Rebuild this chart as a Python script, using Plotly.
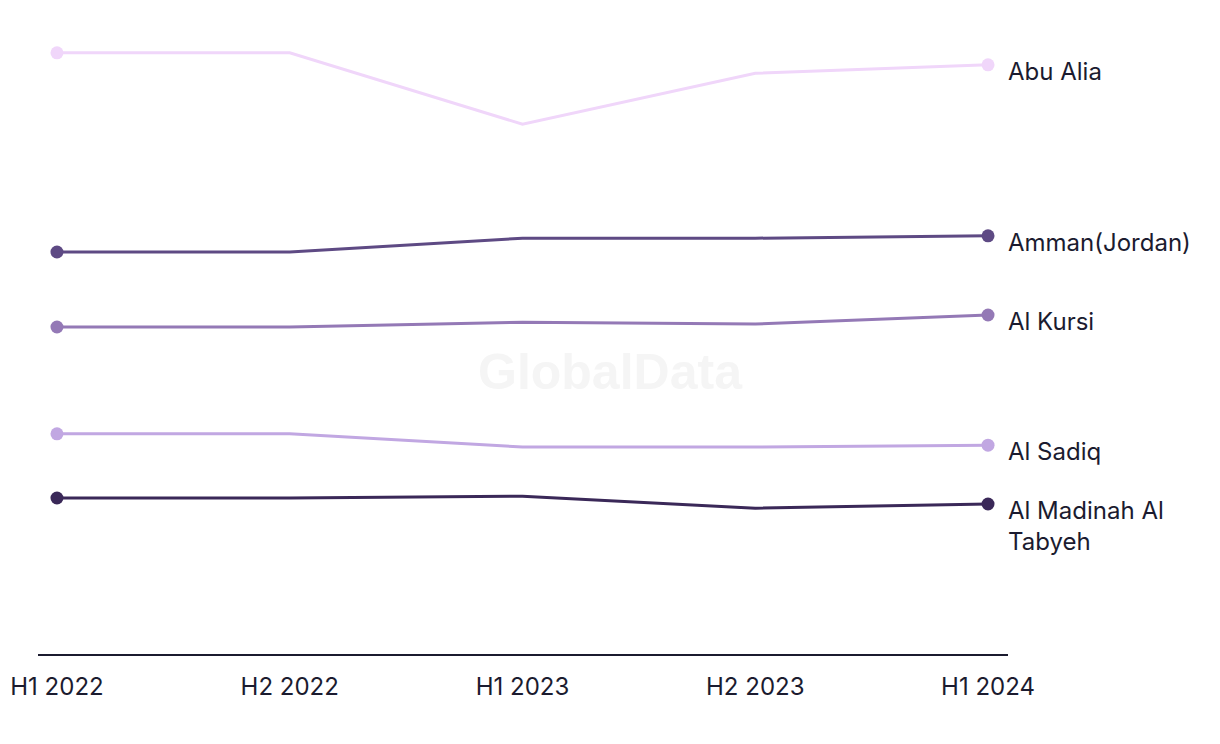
import plotly.graph_objects as go

periods = ["H1 2022", "H2 2022", "H1 2023", "H2 2023", "H1 2024"]

abu_alia = [100.2, 100.2, 88.3, 96.8, 98.2]
amman = [67.0, 67.0, 69.3, 69.3, 69.7]
al_kursi = [54.5, 54.5, 55.3, 55.0, 56.5]
al_sadiq = [36.7, 36.7, 34.5, 34.5, 34.8]
al_madinah = [26.0, 26.0, 26.3, 24.3, 25.0]

names = ["Abu Alia", "Amman(Jordan)", "Al Kursi", "Al Sadiq", "Al Madinah Al<br>Tabyeh"]
series = [abu_alia, amman, al_kursi, al_sadiq, al_madinah]
colors = ["#F0D6FA", "#5E4A84", "#9479B6", "#C1A7E2", "#3A2858"]

text_color = "#1B1B2F"
font_family = "Inter, 'Noto Sans', sans-serif"

fig = go.Figure()
x_idx = list(range(len(periods)))

# faint watermark
fig.add_annotation(
    x=0.5, y=0.5, xref="paper", yref="paper", text="<b>GlobalData</b>",
    showarrow=False, font=dict(size=50, color="#F5F5F5", family="Arial, 'Liberation Sans'"),
    xshift=87, yshift=-33,
)

for name, vals, col in zip(names, series, colors):
    fig.add_trace(go.Scatter(
        x=x_idx, y=vals, mode="lines",
        line=dict(color=col, width=3),
        hoverinfo="skip", showlegend=False,
    ))
    # dots only on the first and last point
    fig.add_trace(go.Scatter(
        x=[x_idx[0], x_idx[-1]], y=[vals[0], vals[-1]], mode="markers",
        marker=dict(color=col, size=13),
        hoverinfo="skip", showlegend=False,
    ))
    fig.add_annotation(
        x=x_idx[-1], y=vals[-1], text=name, showarrow=False,
        xanchor="left", yanchor="top", align="left",
        xshift=18, yshift=10,
        font=dict(size=24, color=text_color, family=font_family),
    )

fig.update_layout(
    width=1220, height=744,
    margin=dict(l=30, r=220, t=16, b=98),
    paper_bgcolor="white", plot_bgcolor="white",
    font=dict(family=font_family, color=text_color, size=24),
    xaxis=dict(
        range=[-0.0815, 4.0858], tickmode="array", tickvals=x_idx, ticktext=periods,
        showgrid=False, zeroline=False, showline=True, linecolor=text_color, linewidth=2,
        ticks="", ticklabelstandoff=10, automargin=False,
        tickfont=dict(size=24, color=text_color),
    ),
    yaxis=dict(range=[0, 105], visible=False, showgrid=False, zeroline=False, automargin=False),
)

fig.write_html("out.html")
